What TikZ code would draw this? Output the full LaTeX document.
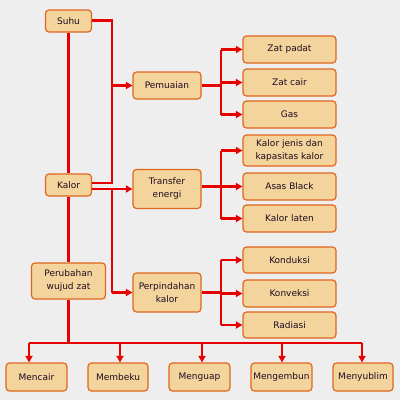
\documentclass[tikz,border=0pt]{standalone}
\usepackage{fontspec}
\setmainfont{DejaVu Sans}
\usetikzlibrary{arrows.meta,calc}
\definecolor{bg}{HTML}{EEEEEE}
\definecolor{boxfill}{HTML}{F3D49C}
\definecolor{boxline}{HTML}{E0651E}
\definecolor{conn}{HTML}{E60000}
\definecolor{txt}{HTML}{200A20}
\tikzset{
  box/.style={draw=boxline, fill=boxfill, line width=1.2pt, rounded corners=3.5pt,
    inner sep=0pt, align=center, text=txt, font=\fontsize{9}{13}\selectfont},
  conline/.style={draw=conn, line width=2.3pt},
  arr/.style={conline, -{Triangle[length=6.5pt,width=7pt]}}
}
\begin{document}
\begin{tikzpicture}[x=1pt,y=-1pt]
\useasboundingbox (0,0) rectangle (400,400);
\fill[bg] (0,0) rectangle (400,400);
% left column
\node[box, minimum width=46pt, minimum height=22pt] (suhu) at (68.5,21) {Suhu};
\node[box, minimum width=46pt, minimum height=22pt] (kalor) at (68.5,185) {Kalor};
\node[box, minimum width=74pt, minimum height=36pt] (perubahan) at (68.5,281) {Perubahan\\wujud zat};
% middle column
\node[box, minimum width=68pt, minimum height=27pt] (pemuaian) at (167,85.5) {Pemuaian};
\node[box, minimum width=68pt, minimum height=39pt] (transfer) at (167,189) {Transfer\\energi};
\node[box, minimum width=68pt, minimum height=39pt] (perpindahan) at (167,292.5) {Perpindahan\\kalor};
% right column
\node[box, minimum width=93pt, minimum height=27pt] (padat) at (289.5,49.5) {Zat padat};
\node[box, minimum width=93pt, minimum height=27pt] (cair) at (289.5,82.5) {Zat cair};
\node[box, minimum width=93pt, minimum height=27pt] (gas) at (289.5,114.5) {Gas};
\node[box, minimum width=93pt, minimum height=31pt] (jenis) at (289.5,150.5) {Kalor jenis dan\\kapasitas kalor};
\node[box, minimum width=93pt, minimum height=27pt] (black) at (289.5,186.5) {Asas Black};
\node[box, minimum width=93pt, minimum height=27pt] (laten) at (289.5,218.5) {Kalor laten};
\node[box, minimum width=93pt, minimum height=26pt] (konduksi) at (289.5,260) {Konduksi};
\node[box, minimum width=93pt, minimum height=27pt] (konveksi) at (289.5,293.5) {Konveksi};
\node[box, minimum width=93pt, minimum height=26pt] (radiasi) at (289.5,325) {Radiasi};
% bottom row
\node[box, minimum width=61pt, minimum height=28pt] (mencair) at (36.5,377) {Mencair};
\node[box, minimum width=60pt, minimum height=28pt] (membeku) at (118,377) {Membeku};
\node[box, minimum width=61pt, minimum height=28pt] (menguap) at (199.5,377) {Menguap};
\node[box, minimum width=61pt, minimum height=28pt] (mengembun) at (281.5,377) {Mengembun};
\node[box, minimum width=60pt, minimum height=28pt] (menyublim) at (363,377) {Menyublim};
% junction coordinates
\coordinate (jA) at (112,0);
\coordinate (jB) at (221,0);
\coordinate (bus) at (0,343);
% left trunk
\draw[conline] (suhu.south) -- (kalor.north);
\draw[conline] (kalor.south) -- (perubahan.north);
\draw[conline] (perubahan.south) -- (perubahan.south |- bus);
% Suhu/Kalor -> Pemuaian
\draw[conline] (suhu.east |- 0,20.5) -| (jA |- 0,183) -- (kalor.east |- 0,183);
\draw[arr] (jA |- pemuaian.west) -- (pemuaian.west);
% Kalor -> Transfer energi, Perpindahan kalor
\draw[arr] (kalor.east |- transfer.west) -- (transfer.west);
\draw[conline] (jA |- transfer.west) -- (jA |- perpindahan.west);
\draw[arr] (jA |- perpindahan.west) -- (perpindahan.west);
% Pemuaian branch
\draw[conline] (pemuaian.east) -- (jB |- pemuaian.east);
\draw[conline] (jB |- padat.west) -- (jB |- gas.west);
\draw[arr] (jB |- padat.west) -- (padat.west);
\draw[arr] (jB |- cair.west) -- (cair.west);
\draw[arr] (jB |- gas.west) -- (gas.west);
% Transfer branch
\draw[conline] (transfer.east |- black.west) -- (jB |- black.west);
\draw[conline] (jB |- jenis.west) -- (jB |- laten.west);
\draw[arr] (jB |- jenis.west) -- (jenis.west);
\draw[arr] (jB |- black.west) -- (black.west);
\draw[arr] (jB |- laten.west) -- (laten.west);
% Perpindahan branch
\draw[conline] (perpindahan.east) -- (jB |- perpindahan.east);
\draw[conline] (jB |- konduksi.west) -- (jB |- radiasi.west);
\draw[arr] (jB |- konduksi.west) -- (konduksi.west);
\draw[arr] (jB |- konveksi.west) -- (konveksi.west);
\draw[arr] (jB |- radiasi.west) -- (radiasi.west);
% bottom bus
\draw[conline] (29,343) -- (362,343);
\draw[arr] (29,343) -- (mencair.north -| 29,0);
\draw[arr] (120,343) -- (membeku.north -| 120,0);
\draw[arr] (202,343) -- (menguap.north -| 202,0);
\draw[arr] (282,343) -- (mengembun.north -| 282,0);
\draw[arr] (362,343) -- (menyublim.north -| 362,0);
\end{tikzpicture}
\end{document}
